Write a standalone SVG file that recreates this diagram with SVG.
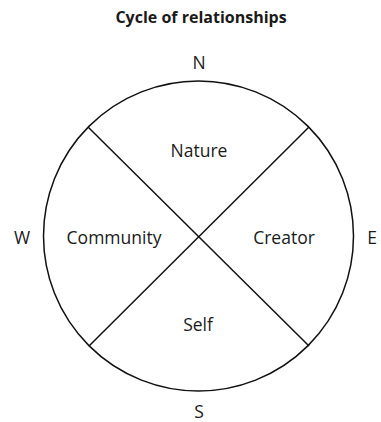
<svg xmlns="http://www.w3.org/2000/svg" width="381" height="422" viewBox="0 0 381 422">
<style>
text{font-family:"Open Sans","Liberation Sans",sans-serif;fill:#1a1a1a;text-anchor:middle}
.t{font-size:16px;font-weight:bold}
.l{font-size:17.5px}
.s{fill:none;stroke:#111;stroke-width:1.5}
</style>
<rect width="381" height="422" fill="#fff"/>
<text class="t" x="201" y="23">Cycle of relationships</text>
<g id="compass">
<text class="l" x="199" y="69">N</text>
<text class="l" x="199" y="418">S</text>
<text class="l" x="22" y="244">W</text>
<text class="l" x="372" y="244">E</text>
</g>
<g id="circle"><circle class="s" cx="198.5" cy="236" r="155"/></g>
<g id="connectors">
<line class="s" x1="88" y1="127" x2="309" y2="346"/>
<line class="s" x1="309" y1="127" x2="89" y2="346"/>
</g>
<g id="nature"><text class="l" x="199" y="157">Nature</text></g>
<g id="community"><text class="l" x="114" y="244">Community</text></g>
<g id="creator"><text class="l" x="284" y="244">Creator</text></g>
<g id="self"><text class="l" x="198" y="331">Self</text></g>
</svg>
